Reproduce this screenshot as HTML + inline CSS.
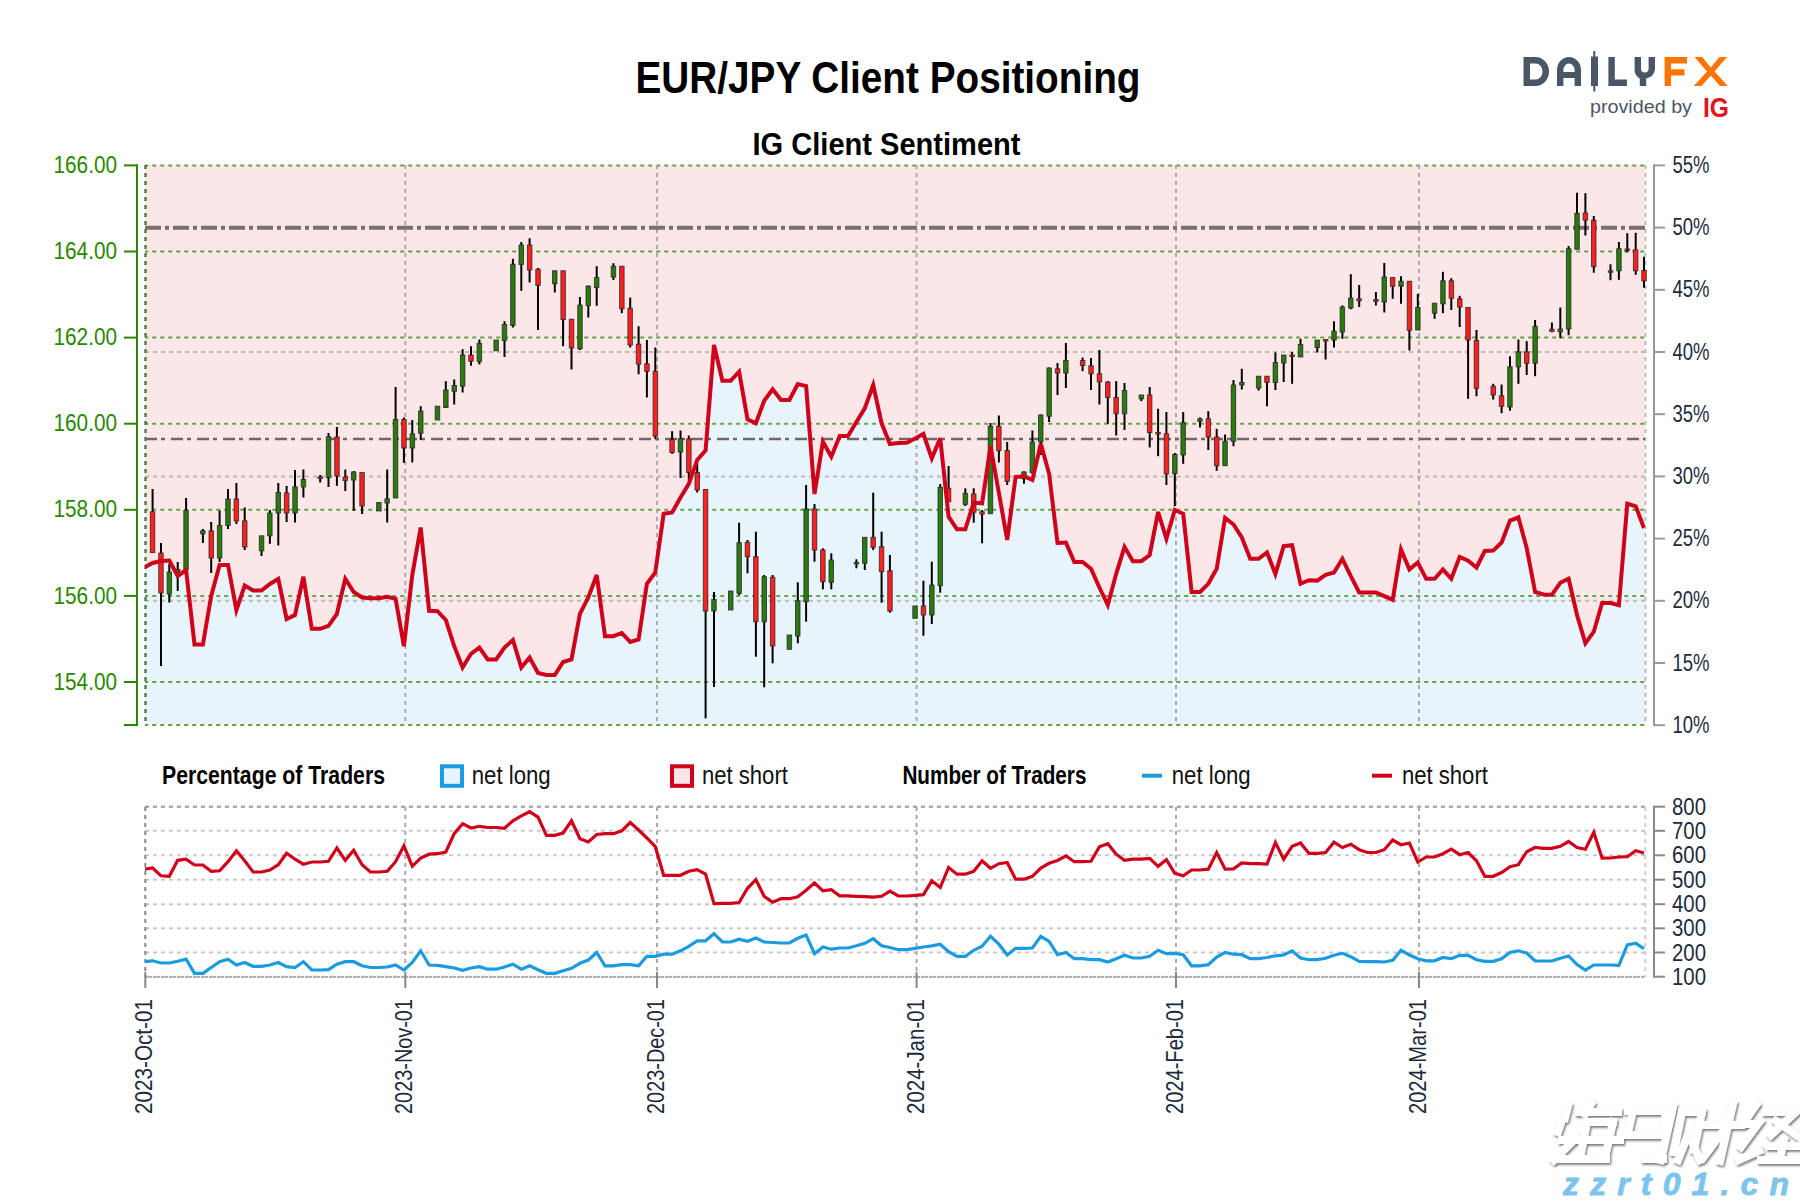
<!DOCTYPE html><html><head><meta charset="utf-8"><style>html,body{margin:0;padding:0;background:#fff;width:1800px;height:1200px;overflow:hidden}svg{display:block}text{font-family:"Liberation Sans",sans-serif}</style></head><body>
<svg width="1800" height="1200" viewBox="0 0 1800 1200">
<rect x="0" y="0" width="1800" height="1200" fill="#fff"/>
<text x="635.5" y="92.8" font-size="44.5" font-weight="bold" fill="#000" textLength="505" lengthAdjust="spacingAndGlyphs">EUR/JPY Client Positioning</text>
<text x="752.5" y="155" font-size="32" font-weight="bold" fill="#000" textLength="268" lengthAdjust="spacingAndGlyphs">IG Client Sentiment</text>
<defs><clipPath id="pc"><rect x="145" y="165" width="1500" height="560"/></clipPath></defs>
<rect x="145" y="165" width="1500" height="560" fill="#fbe7e8"/>
<polygon clip-path="url(#pc)" fill="#e8f4fc" points="144.2,725 144.2,567.5 152.6,563.0 161.0,561.0 169.3,560.5 177.7,576.0 186.1,570.0 194.5,644.5 202.9,644.5 211.2,596.0 219.6,565.0 228.0,565.0 236.4,610.0 244.7,585.5 253.1,590.5 261.5,590.5 269.9,584.0 278.3,579.0 286.6,619.0 295.0,615.0 303.4,576.8 311.8,628.8 320.2,628.8 328.5,625.8 336.9,613.8 345.3,578.8 353.7,592.0 362.1,597.5 370.4,598.2 378.8,598.2 387.2,596.8 395.6,598.8 403.9,646.2 412.3,575.0 420.7,527.5 429.1,610.8 437.5,611.2 445.8,620.0 454.2,646.2 462.6,667.5 471.0,653.8 479.4,647.5 487.7,659.5 496.1,659.5 504.5,647.5 512.9,640.0 521.3,667.5 529.6,657.5 538.0,673.0 546.4,675.0 554.8,675.0 563.1,662.0 571.5,659.5 579.9,613.8 588.3,597.5 596.7,575.0 605.0,636.2 613.4,636.2 621.8,633.0 630.2,642.0 638.6,639.5 646.9,583.8 655.3,572.5 663.7,513.8 672.1,512.5 680.5,497.5 688.8,483.8 697.2,460.0 705.6,450.5 714.0,345.0 722.4,380.7 730.7,380.7 739.1,371.7 747.5,419.3 755.9,423.3 764.2,400.7 772.6,389.3 781.0,400.0 789.4,400.0 797.8,384.0 806.1,386.0 814.5,494.0 822.9,441.7 831.3,456.7 839.7,436.0 848.0,436.0 856.4,422.0 864.8,408.3 873.2,385.0 881.6,423.3 889.9,444.0 898.3,443.0 906.7,442.7 915.1,438.5 923.4,434.0 931.8,458.3 940.2,438.3 948.6,516.7 957.0,529.3 965.3,529.3 973.7,502.7 982.1,503.3 990.5,446.2 998.9,493.0 1007.2,540.0 1015.6,477.0 1024.0,476.2 1032.4,480.0 1040.8,443.8 1049.1,473.8 1057.5,543.0 1065.9,542.5 1074.3,562.0 1082.6,562.0 1091.0,568.8 1099.4,587.5 1107.8,605.0 1116.2,573.8 1124.5,547.0 1132.9,561.2 1141.3,561.2 1149.7,555.0 1158.1,512.0 1166.4,538.8 1174.8,510.0 1183.2,513.8 1191.6,592.0 1200.0,592.0 1208.3,583.8 1216.7,568.8 1225.1,518.0 1233.5,524.5 1241.8,537.5 1250.2,558.8 1258.6,558.8 1267.0,552.5 1275.4,574.0 1283.7,546.2 1292.1,545.2 1300.5,583.8 1308.9,580.2 1317.3,580.6 1325.6,574.8 1334.0,572.5 1342.4,558.8 1350.8,576.2 1359.2,592.5 1367.5,592.5 1375.9,592.5 1384.3,596.2 1392.7,599.8 1401.0,549.4 1409.4,569.4 1417.8,562.5 1426.2,578.8 1434.6,578.8 1442.9,569.4 1451.3,578.8 1459.7,556.9 1468.1,560.6 1476.5,567.5 1484.8,551.0 1493.2,550.6 1501.6,542.5 1510.0,520.6 1518.4,517.5 1526.7,548.1 1535.1,591.9 1543.5,594.4 1551.9,594.7 1560.3,582.8 1568.6,578.7 1577.0,615.0 1585.4,643.3 1593.8,631.7 1602.1,603.0 1610.5,603.0 1618.9,605.3 1627.3,503.7 1635.7,506.3 1644.0,528.0 1644.0,725"/>
<line x1="145" y1="165.4" x2="1645" y2="165.4" stroke="#64a448" stroke-width="2" stroke-dasharray="4,4" stroke-dashoffset="0.8"/>
<line x1="145" y1="251.5" x2="1645" y2="251.5" stroke="#64a448" stroke-width="2" stroke-dasharray="4,4" stroke-dashoffset="0.8"/>
<line x1="145" y1="337.6" x2="1645" y2="337.6" stroke="#64a448" stroke-width="2" stroke-dasharray="4,4" stroke-dashoffset="0.8"/>
<line x1="145" y1="423.7" x2="1645" y2="423.7" stroke="#64a448" stroke-width="2" stroke-dasharray="4,4" stroke-dashoffset="0.8"/>
<line x1="145" y1="509.8" x2="1645" y2="509.8" stroke="#64a448" stroke-width="2" stroke-dasharray="4,4" stroke-dashoffset="0.8"/>
<line x1="145" y1="595.9" x2="1645" y2="595.9" stroke="#64a448" stroke-width="2" stroke-dasharray="4,4" stroke-dashoffset="0.8"/>
<line x1="145" y1="682.0" x2="1645" y2="682.0" stroke="#64a448" stroke-width="2" stroke-dasharray="4,4" stroke-dashoffset="0.8"/>
<line x1="145" y1="725.0" x2="1645" y2="725.0" stroke="#64a448" stroke-width="2" stroke-dasharray="4,4" stroke-dashoffset="0.8"/>
<line x1="145" y1="352.0" x2="1645" y2="352.0" stroke="#b4aaaa" stroke-opacity="0.8" stroke-width="2" stroke-dasharray="4,4"/>
<line x1="145" y1="476.4" x2="1645" y2="476.4" stroke="#b4aaaa" stroke-opacity="0.8" stroke-width="2" stroke-dasharray="4,4"/>
<line x1="145" y1="600.8" x2="1645" y2="600.8" stroke="#b4aaaa" stroke-opacity="0.8" stroke-width="2" stroke-dasharray="4,4"/>
<line x1="405.3" y1="165" x2="405.3" y2="725" stroke="#aaa" stroke-width="2" stroke-dasharray="4,4"/>
<line x1="657.0" y1="165" x2="657.0" y2="725" stroke="#aaa" stroke-width="2" stroke-dasharray="4,4"/>
<line x1="916.6" y1="165" x2="916.6" y2="725" stroke="#aaa" stroke-width="2" stroke-dasharray="4,4"/>
<line x1="1176.0" y1="165" x2="1176.0" y2="725" stroke="#aaa" stroke-width="2" stroke-dasharray="4,4"/>
<line x1="1419.0" y1="165" x2="1419.0" y2="725" stroke="#aaa" stroke-width="2" stroke-dasharray="4,4"/>
<line x1="145.5" y1="165" x2="145.5" y2="725" stroke="#3d6b30" stroke-opacity="0.85" stroke-width="2.5" stroke-dasharray="4,4"/>
<line x1="1645.5" y1="165" x2="1645.5" y2="725" stroke="#bbb" stroke-width="2" stroke-dasharray="4,4"/>
<line x1="145" y1="227.8" x2="1645" y2="227.8" stroke="#777070" stroke-width="4" stroke-dasharray="16,4,4,4"/>
<line x1="145" y1="439" x2="1645" y2="439" stroke="#706868" stroke-width="2.3" stroke-dasharray="12,4,4,6"/>
<line x1="152.6" y1="489.0" x2="152.6" y2="552.5" stroke="#000" stroke-width="2"/>
<rect x="150.3" y="511.8" width="4.5" height="40.8" fill="#ff1f1f" stroke="#222" stroke-opacity="0.75" stroke-width="1"/>
<line x1="161.0" y1="543.0" x2="161.0" y2="666.0" stroke="#000" stroke-width="2"/>
<rect x="158.7" y="553.0" width="4.5" height="40.0" fill="#ff1f1f" stroke="#222" stroke-opacity="0.75" stroke-width="1"/>
<line x1="169.3" y1="564.0" x2="169.3" y2="602.5" stroke="#000" stroke-width="2"/>
<rect x="167.1" y="572.0" width="4.5" height="22.0" fill="#2a7a10" stroke="#222" stroke-opacity="0.75" stroke-width="1"/>
<line x1="177.7" y1="562.0" x2="177.7" y2="591.0" stroke="#000" stroke-width="2"/>
<rect x="175.5" y="569.5" width="4.5" height="2.5" fill="#2a7a10" stroke="#222" stroke-opacity="0.75" stroke-width="1"/>
<line x1="186.1" y1="498.0" x2="186.1" y2="569.5" stroke="#000" stroke-width="2"/>
<rect x="183.8" y="510.5" width="4.5" height="59.0" fill="#2a7a10" stroke="#222" stroke-opacity="0.75" stroke-width="1"/>
<line x1="202.9" y1="529.0" x2="202.9" y2="543.0" stroke="#000" stroke-width="2"/>
<rect x="200.6" y="530.8" width="4.5" height="3.0" fill="#2a7a10" stroke="#222" stroke-opacity="0.75" stroke-width="1"/>
<line x1="211.2" y1="522.0" x2="211.2" y2="573.0" stroke="#000" stroke-width="2"/>
<rect x="209.0" y="530.8" width="4.5" height="27.2" fill="#ff1f1f" stroke="#222" stroke-opacity="0.75" stroke-width="1"/>
<line x1="219.6" y1="510.5" x2="219.6" y2="562.0" stroke="#000" stroke-width="2"/>
<rect x="217.4" y="525.5" width="4.5" height="32.5" fill="#2a7a10" stroke="#222" stroke-opacity="0.75" stroke-width="1"/>
<line x1="228.0" y1="489.0" x2="228.0" y2="529.0" stroke="#000" stroke-width="2"/>
<rect x="225.7" y="499.0" width="4.5" height="26.5" fill="#2a7a10" stroke="#222" stroke-opacity="0.75" stroke-width="1"/>
<line x1="236.4" y1="483.0" x2="236.4" y2="524.0" stroke="#000" stroke-width="2"/>
<rect x="234.1" y="499.0" width="4.5" height="22.0" fill="#ff1f1f" stroke="#222" stroke-opacity="0.75" stroke-width="1"/>
<line x1="244.7" y1="507.5" x2="244.7" y2="550.0" stroke="#000" stroke-width="2"/>
<rect x="242.5" y="520.8" width="4.5" height="26.2" fill="#ff1f1f" stroke="#222" stroke-opacity="0.75" stroke-width="1"/>
<line x1="261.5" y1="535.8" x2="261.5" y2="556.0" stroke="#000" stroke-width="2"/>
<rect x="259.3" y="535.8" width="4.5" height="15.0" fill="#2a7a10" stroke="#222" stroke-opacity="0.75" stroke-width="1"/>
<line x1="269.9" y1="510.0" x2="269.9" y2="543.8" stroke="#000" stroke-width="2"/>
<rect x="267.6" y="513.0" width="4.5" height="22.8" fill="#2a7a10" stroke="#222" stroke-opacity="0.75" stroke-width="1"/>
<line x1="278.3" y1="483.0" x2="278.3" y2="545.5" stroke="#000" stroke-width="2"/>
<rect x="276.0" y="492.5" width="4.5" height="20.5" fill="#2a7a10" stroke="#222" stroke-opacity="0.75" stroke-width="1"/>
<line x1="286.6" y1="486.0" x2="286.6" y2="522.0" stroke="#000" stroke-width="2"/>
<rect x="284.4" y="493.0" width="4.5" height="20.0" fill="#ff1f1f" stroke="#222" stroke-opacity="0.75" stroke-width="1"/>
<line x1="295.0" y1="470.0" x2="295.0" y2="522.5" stroke="#000" stroke-width="2"/>
<rect x="292.8" y="486.8" width="4.5" height="26.2" fill="#2a7a10" stroke="#222" stroke-opacity="0.75" stroke-width="1"/>
<line x1="303.4" y1="469.5" x2="303.4" y2="497.5" stroke="#000" stroke-width="2"/>
<rect x="301.2" y="479.5" width="4.5" height="7.5" fill="#2a7a10" stroke="#222" stroke-opacity="0.75" stroke-width="1"/>
<line x1="320.2" y1="475.0" x2="320.2" y2="482.5" stroke="#000" stroke-width="2"/>
<rect x="317.9" y="477.0" width="4.5" height="1.5" fill="#ff1f1f" stroke="#222" stroke-opacity="0.75" stroke-width="1"/>
<line x1="328.5" y1="433.0" x2="328.5" y2="487.0" stroke="#000" stroke-width="2"/>
<rect x="326.3" y="436.8" width="4.5" height="40.8" fill="#2a7a10" stroke="#222" stroke-opacity="0.75" stroke-width="1"/>
<line x1="336.9" y1="427.0" x2="336.9" y2="485.8" stroke="#000" stroke-width="2"/>
<rect x="334.7" y="437.0" width="4.5" height="39.0" fill="#ff1f1f" stroke="#222" stroke-opacity="0.75" stroke-width="1"/>
<line x1="345.3" y1="469.5" x2="345.3" y2="491.0" stroke="#000" stroke-width="2"/>
<rect x="343.0" y="477.0" width="4.5" height="3.5" fill="#ff1f1f" stroke="#222" stroke-opacity="0.75" stroke-width="1"/>
<line x1="353.7" y1="471.0" x2="353.7" y2="510.8" stroke="#000" stroke-width="2"/>
<rect x="351.4" y="472.0" width="4.5" height="8.0" fill="#2a7a10" stroke="#222" stroke-opacity="0.75" stroke-width="1"/>
<line x1="362.1" y1="472.5" x2="362.1" y2="514.0" stroke="#000" stroke-width="2"/>
<rect x="359.8" y="472.5" width="4.5" height="33.5" fill="#ff1f1f" stroke="#222" stroke-opacity="0.75" stroke-width="1"/>
<line x1="378.8" y1="502.5" x2="378.8" y2="511.0" stroke="#000" stroke-width="2"/>
<rect x="376.6" y="502.5" width="4.5" height="8.5" fill="#2a7a10" stroke="#222" stroke-opacity="0.75" stroke-width="1"/>
<line x1="387.2" y1="469.5" x2="387.2" y2="522.5" stroke="#000" stroke-width="2"/>
<rect x="384.9" y="498.8" width="4.5" height="4.2" fill="#2a7a10" stroke="#222" stroke-opacity="0.75" stroke-width="1"/>
<line x1="395.6" y1="387.0" x2="395.6" y2="498.0" stroke="#000" stroke-width="2"/>
<rect x="393.3" y="419.5" width="4.5" height="78.5" fill="#2a7a10" stroke="#222" stroke-opacity="0.75" stroke-width="1"/>
<line x1="403.9" y1="417.5" x2="403.9" y2="462.8" stroke="#000" stroke-width="2"/>
<rect x="401.7" y="419.5" width="4.5" height="28.5" fill="#ff1f1f" stroke="#222" stroke-opacity="0.75" stroke-width="1"/>
<line x1="412.3" y1="420.0" x2="412.3" y2="462.5" stroke="#000" stroke-width="2"/>
<rect x="410.1" y="433.8" width="4.5" height="14.2" fill="#2a7a10" stroke="#222" stroke-opacity="0.75" stroke-width="1"/>
<line x1="420.7" y1="406.2" x2="420.7" y2="440.0" stroke="#000" stroke-width="2"/>
<rect x="418.5" y="411.2" width="4.5" height="22.0" fill="#2a7a10" stroke="#222" stroke-opacity="0.75" stroke-width="1"/>
<line x1="437.5" y1="406.2" x2="437.5" y2="420.0" stroke="#000" stroke-width="2"/>
<rect x="435.2" y="406.2" width="4.5" height="13.8" fill="#2a7a10" stroke="#222" stroke-opacity="0.75" stroke-width="1"/>
<line x1="445.8" y1="381.2" x2="445.8" y2="408.0" stroke="#000" stroke-width="2"/>
<rect x="443.6" y="390.0" width="4.5" height="17.5" fill="#2a7a10" stroke="#222" stroke-opacity="0.75" stroke-width="1"/>
<line x1="454.2" y1="379.5" x2="454.2" y2="404.5" stroke="#000" stroke-width="2"/>
<rect x="452.0" y="385.5" width="4.5" height="5.8" fill="#2a7a10" stroke="#222" stroke-opacity="0.75" stroke-width="1"/>
<line x1="462.6" y1="349.2" x2="462.6" y2="392.5" stroke="#000" stroke-width="2"/>
<rect x="460.4" y="355.0" width="4.5" height="31.2" fill="#2a7a10" stroke="#222" stroke-opacity="0.75" stroke-width="1"/>
<line x1="471.0" y1="346.2" x2="471.0" y2="365.8" stroke="#000" stroke-width="2"/>
<rect x="468.7" y="355.0" width="4.5" height="6.2" fill="#ff1f1f" stroke="#222" stroke-opacity="0.75" stroke-width="1"/>
<line x1="479.4" y1="339.5" x2="479.4" y2="364.5" stroke="#000" stroke-width="2"/>
<rect x="477.1" y="343.2" width="4.5" height="18.5" fill="#2a7a10" stroke="#222" stroke-opacity="0.75" stroke-width="1"/>
<line x1="496.1" y1="340.0" x2="496.1" y2="350.8" stroke="#000" stroke-width="2"/>
<rect x="493.9" y="340.0" width="4.5" height="10.8" fill="#2a7a10" stroke="#222" stroke-opacity="0.75" stroke-width="1"/>
<line x1="504.5" y1="321.2" x2="504.5" y2="357.0" stroke="#000" stroke-width="2"/>
<rect x="502.2" y="324.5" width="4.5" height="16.0" fill="#2a7a10" stroke="#222" stroke-opacity="0.75" stroke-width="1"/>
<line x1="512.9" y1="258.8" x2="512.9" y2="327.5" stroke="#000" stroke-width="2"/>
<rect x="510.6" y="264.2" width="4.5" height="61.2" fill="#2a7a10" stroke="#222" stroke-opacity="0.75" stroke-width="1"/>
<line x1="521.3" y1="242.0" x2="521.3" y2="290.8" stroke="#000" stroke-width="2"/>
<rect x="519.0" y="245.0" width="4.5" height="19.5" fill="#2a7a10" stroke="#222" stroke-opacity="0.75" stroke-width="1"/>
<line x1="529.6" y1="238.2" x2="529.6" y2="282.5" stroke="#000" stroke-width="2"/>
<rect x="527.4" y="245.0" width="4.5" height="25.0" fill="#ff1f1f" stroke="#222" stroke-opacity="0.75" stroke-width="1"/>
<line x1="538.0" y1="268.0" x2="538.0" y2="330.0" stroke="#000" stroke-width="2"/>
<rect x="535.8" y="269.2" width="4.5" height="16.2" fill="#ff1f1f" stroke="#222" stroke-opacity="0.75" stroke-width="1"/>
<line x1="554.8" y1="270.8" x2="554.8" y2="292.5" stroke="#000" stroke-width="2"/>
<rect x="552.5" y="270.8" width="4.5" height="13.0" fill="#2a7a10" stroke="#222" stroke-opacity="0.75" stroke-width="1"/>
<line x1="563.1" y1="270.8" x2="563.1" y2="346.2" stroke="#000" stroke-width="2"/>
<rect x="560.9" y="270.8" width="4.5" height="48.8" fill="#ff1f1f" stroke="#222" stroke-opacity="0.75" stroke-width="1"/>
<line x1="571.5" y1="319.2" x2="571.5" y2="369.5" stroke="#000" stroke-width="2"/>
<rect x="569.3" y="319.2" width="4.5" height="28.8" fill="#ff1f1f" stroke="#222" stroke-opacity="0.75" stroke-width="1"/>
<line x1="579.9" y1="297.0" x2="579.9" y2="350.0" stroke="#000" stroke-width="2"/>
<rect x="577.7" y="305.0" width="4.5" height="43.8" fill="#2a7a10" stroke="#222" stroke-opacity="0.75" stroke-width="1"/>
<line x1="588.3" y1="285.5" x2="588.3" y2="317.5" stroke="#000" stroke-width="2"/>
<rect x="586.0" y="286.2" width="4.5" height="19.5" fill="#2a7a10" stroke="#222" stroke-opacity="0.75" stroke-width="1"/>
<line x1="596.7" y1="266.2" x2="596.7" y2="305.8" stroke="#000" stroke-width="2"/>
<rect x="594.4" y="277.5" width="4.5" height="10.0" fill="#2a7a10" stroke="#222" stroke-opacity="0.75" stroke-width="1"/>
<line x1="613.4" y1="263.2" x2="613.4" y2="280.0" stroke="#000" stroke-width="2"/>
<rect x="611.2" y="266.2" width="4.5" height="10.8" fill="#2a7a10" stroke="#222" stroke-opacity="0.75" stroke-width="1"/>
<line x1="621.8" y1="266.2" x2="621.8" y2="313.2" stroke="#000" stroke-width="2"/>
<rect x="619.6" y="266.2" width="4.5" height="42.5" fill="#ff1f1f" stroke="#222" stroke-opacity="0.75" stroke-width="1"/>
<line x1="630.2" y1="297.5" x2="630.2" y2="347.5" stroke="#000" stroke-width="2"/>
<rect x="627.9" y="308.2" width="4.5" height="36.8" fill="#ff1f1f" stroke="#222" stroke-opacity="0.75" stroke-width="1"/>
<line x1="638.6" y1="326.2" x2="638.6" y2="374.2" stroke="#000" stroke-width="2"/>
<rect x="636.3" y="344.2" width="4.5" height="20.0" fill="#ff1f1f" stroke="#222" stroke-opacity="0.75" stroke-width="1"/>
<line x1="646.9" y1="340.0" x2="646.9" y2="397.5" stroke="#000" stroke-width="2"/>
<rect x="644.7" y="363.8" width="4.5" height="7.5" fill="#ff1f1f" stroke="#222" stroke-opacity="0.75" stroke-width="1"/>
<line x1="655.3" y1="347.5" x2="655.3" y2="438.8" stroke="#000" stroke-width="2"/>
<rect x="653.1" y="371.2" width="4.5" height="65.0" fill="#ff1f1f" stroke="#222" stroke-opacity="0.75" stroke-width="1"/>
<line x1="672.1" y1="431.2" x2="672.1" y2="453.8" stroke="#000" stroke-width="2"/>
<rect x="669.8" y="439.5" width="4.5" height="13.0" fill="#ff1f1f" stroke="#222" stroke-opacity="0.75" stroke-width="1"/>
<line x1="680.5" y1="430.5" x2="680.5" y2="478.0" stroke="#000" stroke-width="2"/>
<rect x="678.2" y="438.8" width="4.5" height="13.2" fill="#2a7a10" stroke="#222" stroke-opacity="0.75" stroke-width="1"/>
<line x1="688.8" y1="435.5" x2="688.8" y2="481.2" stroke="#000" stroke-width="2"/>
<rect x="686.6" y="438.8" width="4.5" height="33.8" fill="#ff1f1f" stroke="#222" stroke-opacity="0.75" stroke-width="1"/>
<line x1="697.2" y1="463.8" x2="697.2" y2="492.5" stroke="#000" stroke-width="2"/>
<rect x="695.0" y="472.5" width="4.5" height="17.5" fill="#ff1f1f" stroke="#222" stroke-opacity="0.75" stroke-width="1"/>
<line x1="705.6" y1="489.5" x2="705.6" y2="718.3" stroke="#000" stroke-width="2"/>
<rect x="703.3" y="489.5" width="4.5" height="121.5" fill="#ff1f1f" stroke="#222" stroke-opacity="0.75" stroke-width="1"/>
<line x1="714.0" y1="592.0" x2="714.0" y2="687.0" stroke="#000" stroke-width="2"/>
<rect x="711.7" y="599.5" width="4.5" height="11.5" fill="#2a7a10" stroke="#222" stroke-opacity="0.75" stroke-width="1"/>
<line x1="730.7" y1="591.0" x2="730.7" y2="610.0" stroke="#000" stroke-width="2"/>
<rect x="728.5" y="591.0" width="4.5" height="19.0" fill="#2a7a10" stroke="#222" stroke-opacity="0.75" stroke-width="1"/>
<line x1="739.1" y1="522.7" x2="739.1" y2="595.0" stroke="#000" stroke-width="2"/>
<rect x="736.9" y="542.7" width="4.5" height="50.6" fill="#2a7a10" stroke="#222" stroke-opacity="0.75" stroke-width="1"/>
<line x1="747.5" y1="540.0" x2="747.5" y2="573.3" stroke="#000" stroke-width="2"/>
<rect x="745.2" y="542.3" width="4.5" height="14.4" fill="#ff1f1f" stroke="#222" stroke-opacity="0.75" stroke-width="1"/>
<line x1="755.9" y1="531.7" x2="755.9" y2="656.7" stroke="#000" stroke-width="2"/>
<rect x="753.6" y="556.7" width="4.5" height="65.0" fill="#ff1f1f" stroke="#222" stroke-opacity="0.75" stroke-width="1"/>
<line x1="764.2" y1="575.0" x2="764.2" y2="687.3" stroke="#000" stroke-width="2"/>
<rect x="762.0" y="576.7" width="4.5" height="45.0" fill="#2a7a10" stroke="#222" stroke-opacity="0.75" stroke-width="1"/>
<line x1="772.6" y1="575.0" x2="772.6" y2="663.3" stroke="#000" stroke-width="2"/>
<rect x="770.4" y="577.3" width="4.5" height="68.7" fill="#ff1f1f" stroke="#222" stroke-opacity="0.75" stroke-width="1"/>
<line x1="789.4" y1="635.0" x2="789.4" y2="649.3" stroke="#000" stroke-width="2"/>
<rect x="787.1" y="635.0" width="4.5" height="14.3" fill="#2a7a10" stroke="#222" stroke-opacity="0.75" stroke-width="1"/>
<line x1="797.8" y1="582.3" x2="797.8" y2="643.3" stroke="#000" stroke-width="2"/>
<rect x="795.5" y="600.7" width="4.5" height="35.3" fill="#2a7a10" stroke="#222" stroke-opacity="0.75" stroke-width="1"/>
<line x1="806.1" y1="485.0" x2="806.1" y2="621.7" stroke="#000" stroke-width="2"/>
<rect x="803.9" y="509.0" width="4.5" height="92.7" fill="#2a7a10" stroke="#222" stroke-opacity="0.75" stroke-width="1"/>
<line x1="814.5" y1="504.0" x2="814.5" y2="561.7" stroke="#000" stroke-width="2"/>
<rect x="812.3" y="509.0" width="4.5" height="41.0" fill="#ff1f1f" stroke="#222" stroke-opacity="0.75" stroke-width="1"/>
<line x1="822.9" y1="548.3" x2="822.9" y2="589.3" stroke="#000" stroke-width="2"/>
<rect x="820.6" y="550.0" width="4.5" height="31.7" fill="#ff1f1f" stroke="#222" stroke-opacity="0.75" stroke-width="1"/>
<line x1="831.3" y1="553.3" x2="831.3" y2="589.3" stroke="#000" stroke-width="2"/>
<rect x="829.0" y="560.0" width="4.5" height="22.3" fill="#2a7a10" stroke="#222" stroke-opacity="0.75" stroke-width="1"/>
<line x1="856.4" y1="559.3" x2="856.4" y2="568.3" stroke="#000" stroke-width="2"/>
<rect x="854.2" y="562.5" width="4.5" height="1.5" fill="#2a7a10" stroke="#222" stroke-opacity="0.75" stroke-width="1"/>
<line x1="864.8" y1="537.3" x2="864.8" y2="570.0" stroke="#000" stroke-width="2"/>
<rect x="862.5" y="537.3" width="4.5" height="26.0" fill="#2a7a10" stroke="#222" stroke-opacity="0.75" stroke-width="1"/>
<line x1="873.2" y1="492.7" x2="873.2" y2="550.0" stroke="#000" stroke-width="2"/>
<rect x="870.9" y="537.3" width="4.5" height="10.0" fill="#ff1f1f" stroke="#222" stroke-opacity="0.75" stroke-width="1"/>
<line x1="881.6" y1="531.7" x2="881.6" y2="602.7" stroke="#000" stroke-width="2"/>
<rect x="879.3" y="546.7" width="4.5" height="25.0" fill="#ff1f1f" stroke="#222" stroke-opacity="0.75" stroke-width="1"/>
<line x1="889.9" y1="555.0" x2="889.9" y2="612.7" stroke="#000" stroke-width="2"/>
<rect x="887.7" y="570.7" width="4.5" height="40.3" fill="#ff1f1f" stroke="#222" stroke-opacity="0.75" stroke-width="1"/>
<line x1="915.1" y1="606.0" x2="915.1" y2="618.3" stroke="#000" stroke-width="2"/>
<rect x="912.8" y="606.0" width="4.5" height="12.3" fill="#2a7a10" stroke="#222" stroke-opacity="0.75" stroke-width="1"/>
<line x1="923.4" y1="580.7" x2="923.4" y2="635.7" stroke="#000" stroke-width="2"/>
<rect x="921.2" y="606.0" width="4.5" height="9.0" fill="#ff1f1f" stroke="#222" stroke-opacity="0.75" stroke-width="1"/>
<line x1="931.8" y1="561.7" x2="931.8" y2="624.0" stroke="#000" stroke-width="2"/>
<rect x="929.6" y="585.0" width="4.5" height="30.0" fill="#2a7a10" stroke="#222" stroke-opacity="0.75" stroke-width="1"/>
<line x1="940.2" y1="484.0" x2="940.2" y2="592.7" stroke="#000" stroke-width="2"/>
<rect x="938.0" y="487.3" width="4.5" height="98.4" fill="#2a7a10" stroke="#222" stroke-opacity="0.75" stroke-width="1"/>
<line x1="948.6" y1="466.0" x2="948.6" y2="501.7" stroke="#000" stroke-width="2"/>
<rect x="946.3" y="488.3" width="4.5" height="13.4" fill="#ff1f1f" stroke="#222" stroke-opacity="0.75" stroke-width="1"/>
<line x1="965.3" y1="488.3" x2="965.3" y2="506.0" stroke="#000" stroke-width="2"/>
<rect x="963.1" y="493.3" width="4.5" height="11.0" fill="#2a7a10" stroke="#222" stroke-opacity="0.75" stroke-width="1"/>
<line x1="973.7" y1="488.3" x2="973.7" y2="522.7" stroke="#000" stroke-width="2"/>
<rect x="971.5" y="494.0" width="4.5" height="18.3" fill="#ff1f1f" stroke="#222" stroke-opacity="0.75" stroke-width="1"/>
<line x1="982.1" y1="510.0" x2="982.1" y2="543.3" stroke="#000" stroke-width="2"/>
<rect x="979.8" y="511.7" width="4.5" height="2.3" fill="#ff1f1f" stroke="#222" stroke-opacity="0.75" stroke-width="1"/>
<line x1="990.5" y1="423.0" x2="990.5" y2="513.8" stroke="#000" stroke-width="2"/>
<rect x="988.2" y="426.2" width="4.5" height="87.5" fill="#2a7a10" stroke="#222" stroke-opacity="0.75" stroke-width="1"/>
<line x1="998.9" y1="415.5" x2="998.9" y2="462.5" stroke="#000" stroke-width="2"/>
<rect x="996.6" y="426.2" width="4.5" height="24.5" fill="#ff1f1f" stroke="#222" stroke-opacity="0.75" stroke-width="1"/>
<line x1="1007.2" y1="442.0" x2="1007.2" y2="485.0" stroke="#000" stroke-width="2"/>
<rect x="1005.0" y="450.5" width="4.5" height="30.8" fill="#ff1f1f" stroke="#222" stroke-opacity="0.75" stroke-width="1"/>
<line x1="1024.0" y1="471.2" x2="1024.0" y2="483.8" stroke="#000" stroke-width="2"/>
<rect x="1021.7" y="472.0" width="4.5" height="6.8" fill="#2a7a10" stroke="#222" stroke-opacity="0.75" stroke-width="1"/>
<line x1="1032.4" y1="430.5" x2="1032.4" y2="473.8" stroke="#000" stroke-width="2"/>
<rect x="1030.1" y="442.0" width="4.5" height="30.5" fill="#2a7a10" stroke="#222" stroke-opacity="0.75" stroke-width="1"/>
<line x1="1040.8" y1="414.5" x2="1040.8" y2="455.0" stroke="#000" stroke-width="2"/>
<rect x="1038.5" y="415.0" width="4.5" height="27.0" fill="#2a7a10" stroke="#222" stroke-opacity="0.75" stroke-width="1"/>
<line x1="1049.1" y1="367.5" x2="1049.1" y2="422.0" stroke="#000" stroke-width="2"/>
<rect x="1046.9" y="368.0" width="4.5" height="48.2" fill="#2a7a10" stroke="#222" stroke-opacity="0.75" stroke-width="1"/>
<line x1="1057.5" y1="363.0" x2="1057.5" y2="395.0" stroke="#000" stroke-width="2"/>
<rect x="1055.3" y="368.8" width="4.5" height="4.2" fill="#ff1f1f" stroke="#222" stroke-opacity="0.75" stroke-width="1"/>
<line x1="1065.9" y1="343.0" x2="1065.9" y2="388.0" stroke="#000" stroke-width="2"/>
<rect x="1063.6" y="360.5" width="4.5" height="12.5" fill="#2a7a10" stroke="#222" stroke-opacity="0.75" stroke-width="1"/>
<line x1="1082.6" y1="357.5" x2="1082.6" y2="371.2" stroke="#000" stroke-width="2"/>
<rect x="1080.4" y="360.5" width="4.5" height="5.0" fill="#ff1f1f" stroke="#222" stroke-opacity="0.75" stroke-width="1"/>
<line x1="1091.0" y1="358.0" x2="1091.0" y2="390.0" stroke="#000" stroke-width="2"/>
<rect x="1088.8" y="365.8" width="4.5" height="8.0" fill="#ff1f1f" stroke="#222" stroke-opacity="0.75" stroke-width="1"/>
<line x1="1099.4" y1="350.0" x2="1099.4" y2="404.5" stroke="#000" stroke-width="2"/>
<rect x="1097.2" y="373.8" width="4.5" height="8.2" fill="#ff1f1f" stroke="#222" stroke-opacity="0.75" stroke-width="1"/>
<line x1="1107.8" y1="381.2" x2="1107.8" y2="423.8" stroke="#000" stroke-width="2"/>
<rect x="1105.5" y="382.0" width="4.5" height="15.5" fill="#ff1f1f" stroke="#222" stroke-opacity="0.75" stroke-width="1"/>
<line x1="1116.2" y1="381.2" x2="1116.2" y2="435.5" stroke="#000" stroke-width="2"/>
<rect x="1113.9" y="397.5" width="4.5" height="16.2" fill="#ff1f1f" stroke="#222" stroke-opacity="0.75" stroke-width="1"/>
<line x1="1124.5" y1="383.0" x2="1124.5" y2="430.0" stroke="#000" stroke-width="2"/>
<rect x="1122.3" y="390.5" width="4.5" height="23.2" fill="#2a7a10" stroke="#222" stroke-opacity="0.75" stroke-width="1"/>
<line x1="1141.3" y1="395.0" x2="1141.3" y2="401.2" stroke="#000" stroke-width="2"/>
<rect x="1139.1" y="395.0" width="4.5" height="3.8" fill="#2a7a10" stroke="#222" stroke-opacity="0.75" stroke-width="1"/>
<line x1="1149.7" y1="387.0" x2="1149.7" y2="447.5" stroke="#000" stroke-width="2"/>
<rect x="1147.4" y="395.0" width="4.5" height="37.5" fill="#ff1f1f" stroke="#222" stroke-opacity="0.75" stroke-width="1"/>
<line x1="1158.1" y1="408.8" x2="1158.1" y2="456.2" stroke="#000" stroke-width="2"/>
<rect x="1155.8" y="432.5" width="4.5" height="1.5" fill="#ff1f1f" stroke="#222" stroke-opacity="0.75" stroke-width="1"/>
<line x1="1166.4" y1="412.0" x2="1166.4" y2="485.0" stroke="#000" stroke-width="2"/>
<rect x="1164.2" y="433.8" width="4.5" height="40.0" fill="#ff1f1f" stroke="#222" stroke-opacity="0.75" stroke-width="1"/>
<line x1="1174.8" y1="453.0" x2="1174.8" y2="506.2" stroke="#000" stroke-width="2"/>
<rect x="1172.6" y="454.5" width="4.5" height="19.2" fill="#2a7a10" stroke="#222" stroke-opacity="0.75" stroke-width="1"/>
<line x1="1183.2" y1="412.0" x2="1183.2" y2="463.8" stroke="#000" stroke-width="2"/>
<rect x="1180.9" y="422.5" width="4.5" height="32.5" fill="#2a7a10" stroke="#222" stroke-opacity="0.75" stroke-width="1"/>
<line x1="1200.0" y1="417.5" x2="1200.0" y2="427.5" stroke="#000" stroke-width="2"/>
<rect x="1197.7" y="418.8" width="4.5" height="2.5" fill="#2a7a10" stroke="#222" stroke-opacity="0.75" stroke-width="1"/>
<line x1="1208.3" y1="411.2" x2="1208.3" y2="450.0" stroke="#000" stroke-width="2"/>
<rect x="1206.1" y="418.8" width="4.5" height="18.2" fill="#ff1f1f" stroke="#222" stroke-opacity="0.75" stroke-width="1"/>
<line x1="1216.7" y1="428.8" x2="1216.7" y2="470.8" stroke="#000" stroke-width="2"/>
<rect x="1214.5" y="437.0" width="4.5" height="28.8" fill="#ff1f1f" stroke="#222" stroke-opacity="0.75" stroke-width="1"/>
<line x1="1225.1" y1="434.5" x2="1225.1" y2="465.8" stroke="#000" stroke-width="2"/>
<rect x="1222.8" y="441.2" width="4.5" height="24.5" fill="#2a7a10" stroke="#222" stroke-opacity="0.75" stroke-width="1"/>
<line x1="1233.5" y1="380.0" x2="1233.5" y2="446.2" stroke="#000" stroke-width="2"/>
<rect x="1231.2" y="385.0" width="4.5" height="56.2" fill="#2a7a10" stroke="#222" stroke-opacity="0.75" stroke-width="1"/>
<line x1="1241.8" y1="368.8" x2="1241.8" y2="389.5" stroke="#000" stroke-width="2"/>
<rect x="1239.6" y="382.5" width="4.5" height="2.5" fill="#2a7a10" stroke="#222" stroke-opacity="0.75" stroke-width="1"/>
<line x1="1258.6" y1="376.2" x2="1258.6" y2="390.5" stroke="#000" stroke-width="2"/>
<rect x="1256.4" y="376.2" width="4.5" height="11.8" fill="#2a7a10" stroke="#222" stroke-opacity="0.75" stroke-width="1"/>
<line x1="1267.0" y1="376.2" x2="1267.0" y2="406.2" stroke="#000" stroke-width="2"/>
<rect x="1264.7" y="376.2" width="4.5" height="6.2" fill="#ff1f1f" stroke="#222" stroke-opacity="0.75" stroke-width="1"/>
<line x1="1275.4" y1="352.5" x2="1275.4" y2="390.0" stroke="#000" stroke-width="2"/>
<rect x="1273.1" y="362.5" width="4.5" height="20.0" fill="#2a7a10" stroke="#222" stroke-opacity="0.75" stroke-width="1"/>
<line x1="1283.7" y1="355.0" x2="1283.7" y2="382.0" stroke="#000" stroke-width="2"/>
<rect x="1281.5" y="355.0" width="4.5" height="8.0" fill="#2a7a10" stroke="#222" stroke-opacity="0.75" stroke-width="1"/>
<line x1="1292.1" y1="352.0" x2="1292.1" y2="383.8" stroke="#000" stroke-width="2"/>
<rect x="1289.9" y="355.0" width="4.5" height="1.5" fill="#ff1f1f" stroke="#222" stroke-opacity="0.75" stroke-width="1"/>
<line x1="1300.5" y1="338.8" x2="1300.5" y2="357.0" stroke="#000" stroke-width="2"/>
<rect x="1298.3" y="344.5" width="4.5" height="12.5" fill="#2a7a10" stroke="#222" stroke-opacity="0.75" stroke-width="1"/>
<line x1="1317.3" y1="340.0" x2="1317.3" y2="352.5" stroke="#000" stroke-width="2"/>
<rect x="1315.0" y="340.0" width="4.5" height="7.5" fill="#2a7a10" stroke="#222" stroke-opacity="0.75" stroke-width="1"/>
<line x1="1325.6" y1="339.5" x2="1325.6" y2="359.5" stroke="#000" stroke-width="2"/>
<rect x="1323.4" y="339.5" width="4.5" height="1.5" fill="#ff1f1f" stroke="#222" stroke-opacity="0.75" stroke-width="1"/>
<line x1="1334.0" y1="321.2" x2="1334.0" y2="347.5" stroke="#000" stroke-width="2"/>
<rect x="1331.8" y="331.2" width="4.5" height="8.8" fill="#2a7a10" stroke="#222" stroke-opacity="0.75" stroke-width="1"/>
<line x1="1342.4" y1="305.5" x2="1342.4" y2="338.8" stroke="#000" stroke-width="2"/>
<rect x="1340.1" y="307.0" width="4.5" height="25.0" fill="#2a7a10" stroke="#222" stroke-opacity="0.75" stroke-width="1"/>
<line x1="1350.8" y1="274.2" x2="1350.8" y2="309.2" stroke="#000" stroke-width="2"/>
<rect x="1348.5" y="298.0" width="4.5" height="10.0" fill="#2a7a10" stroke="#222" stroke-opacity="0.75" stroke-width="1"/>
<line x1="1359.2" y1="285.0" x2="1359.2" y2="307.0" stroke="#000" stroke-width="2"/>
<rect x="1356.9" y="298.8" width="4.5" height="2.0" fill="#ff1f1f" stroke="#222" stroke-opacity="0.75" stroke-width="1"/>
<line x1="1375.9" y1="292.0" x2="1375.9" y2="305.5" stroke="#000" stroke-width="2"/>
<rect x="1373.7" y="299.5" width="4.5" height="1.8" fill="#ff1f1f" stroke="#222" stroke-opacity="0.75" stroke-width="1"/>
<line x1="1384.3" y1="263.0" x2="1384.3" y2="312.5" stroke="#000" stroke-width="2"/>
<rect x="1382.0" y="277.0" width="4.5" height="25.0" fill="#2a7a10" stroke="#222" stroke-opacity="0.75" stroke-width="1"/>
<line x1="1392.7" y1="277.5" x2="1392.7" y2="298.8" stroke="#000" stroke-width="2"/>
<rect x="1390.4" y="277.5" width="4.5" height="8.8" fill="#ff1f1f" stroke="#222" stroke-opacity="0.75" stroke-width="1"/>
<line x1="1401.0" y1="276.2" x2="1401.0" y2="303.8" stroke="#000" stroke-width="2"/>
<rect x="1398.8" y="281.2" width="4.5" height="5.0" fill="#2a7a10" stroke="#222" stroke-opacity="0.75" stroke-width="1"/>
<line x1="1409.4" y1="281.2" x2="1409.4" y2="350.5" stroke="#000" stroke-width="2"/>
<rect x="1407.2" y="281.2" width="4.5" height="49.2" fill="#ff1f1f" stroke="#222" stroke-opacity="0.75" stroke-width="1"/>
<line x1="1417.8" y1="293.8" x2="1417.8" y2="330.0" stroke="#000" stroke-width="2"/>
<rect x="1415.6" y="307.5" width="4.5" height="22.5" fill="#2a7a10" stroke="#222" stroke-opacity="0.75" stroke-width="1"/>
<line x1="1434.6" y1="303.2" x2="1434.6" y2="318.8" stroke="#000" stroke-width="2"/>
<rect x="1432.3" y="303.2" width="4.5" height="10.0" fill="#2a7a10" stroke="#222" stroke-opacity="0.75" stroke-width="1"/>
<line x1="1442.9" y1="271.8" x2="1442.9" y2="313.2" stroke="#000" stroke-width="2"/>
<rect x="1440.7" y="280.8" width="4.5" height="23.0" fill="#2a7a10" stroke="#222" stroke-opacity="0.75" stroke-width="1"/>
<line x1="1451.3" y1="278.2" x2="1451.3" y2="310.0" stroke="#000" stroke-width="2"/>
<rect x="1449.1" y="280.8" width="4.5" height="17.5" fill="#ff1f1f" stroke="#222" stroke-opacity="0.75" stroke-width="1"/>
<line x1="1459.7" y1="295.8" x2="1459.7" y2="327.0" stroke="#000" stroke-width="2"/>
<rect x="1457.5" y="298.8" width="4.5" height="8.2" fill="#ff1f1f" stroke="#222" stroke-opacity="0.75" stroke-width="1"/>
<line x1="1468.1" y1="307.5" x2="1468.1" y2="398.8" stroke="#000" stroke-width="2"/>
<rect x="1465.8" y="307.5" width="4.5" height="32.5" fill="#ff1f1f" stroke="#222" stroke-opacity="0.75" stroke-width="1"/>
<line x1="1476.5" y1="330.0" x2="1476.5" y2="396.2" stroke="#000" stroke-width="2"/>
<rect x="1474.2" y="340.5" width="4.5" height="47.8" fill="#ff1f1f" stroke="#222" stroke-opacity="0.75" stroke-width="1"/>
<line x1="1493.2" y1="383.8" x2="1493.2" y2="399.5" stroke="#000" stroke-width="2"/>
<rect x="1491.0" y="386.2" width="4.5" height="8.8" fill="#ff1f1f" stroke="#222" stroke-opacity="0.75" stroke-width="1"/>
<line x1="1501.6" y1="384.5" x2="1501.6" y2="413.2" stroke="#000" stroke-width="2"/>
<rect x="1499.3" y="395.8" width="4.5" height="10.5" fill="#ff1f1f" stroke="#222" stroke-opacity="0.75" stroke-width="1"/>
<line x1="1510.0" y1="356.2" x2="1510.0" y2="410.8" stroke="#000" stroke-width="2"/>
<rect x="1507.7" y="366.8" width="4.5" height="40.2" fill="#2a7a10" stroke="#222" stroke-opacity="0.75" stroke-width="1"/>
<line x1="1518.4" y1="339.5" x2="1518.4" y2="383.8" stroke="#000" stroke-width="2"/>
<rect x="1516.1" y="351.8" width="4.5" height="15.0" fill="#2a7a10" stroke="#222" stroke-opacity="0.75" stroke-width="1"/>
<line x1="1526.7" y1="341.2" x2="1526.7" y2="375.0" stroke="#000" stroke-width="2"/>
<rect x="1524.5" y="351.8" width="4.5" height="11.5" fill="#ff1f1f" stroke="#222" stroke-opacity="0.75" stroke-width="1"/>
<line x1="1535.1" y1="320.0" x2="1535.1" y2="376.2" stroke="#000" stroke-width="2"/>
<rect x="1532.9" y="326.2" width="4.5" height="37.0" fill="#2a7a10" stroke="#222" stroke-opacity="0.75" stroke-width="1"/>
<line x1="1551.9" y1="322.5" x2="1551.9" y2="332.2" stroke="#000" stroke-width="2"/>
<rect x="1549.6" y="329.2" width="4.5" height="2.2" fill="#ff1f1f" stroke="#222" stroke-opacity="0.75" stroke-width="1"/>
<line x1="1560.3" y1="307.5" x2="1560.3" y2="338.2" stroke="#000" stroke-width="2"/>
<rect x="1558.0" y="329.0" width="4.5" height="2.8" fill="#2a7a10" stroke="#222" stroke-opacity="0.75" stroke-width="1"/>
<line x1="1568.6" y1="246.0" x2="1568.6" y2="335.2" stroke="#000" stroke-width="2"/>
<rect x="1566.4" y="248.7" width="4.5" height="80.3" fill="#2a7a10" stroke="#222" stroke-opacity="0.75" stroke-width="1"/>
<line x1="1577.0" y1="192.8" x2="1577.0" y2="249.3" stroke="#000" stroke-width="2"/>
<rect x="1574.8" y="213.3" width="4.5" height="36.0" fill="#2a7a10" stroke="#222" stroke-opacity="0.75" stroke-width="1"/>
<line x1="1585.4" y1="193.2" x2="1585.4" y2="235.5" stroke="#000" stroke-width="2"/>
<rect x="1583.1" y="213.0" width="4.5" height="7.2" fill="#ff1f1f" stroke="#222" stroke-opacity="0.75" stroke-width="1"/>
<line x1="1593.8" y1="216.0" x2="1593.8" y2="272.7" stroke="#000" stroke-width="2"/>
<rect x="1591.5" y="220.2" width="4.5" height="46.5" fill="#ff1f1f" stroke="#222" stroke-opacity="0.75" stroke-width="1"/>
<line x1="1610.5" y1="264.3" x2="1610.5" y2="280.2" stroke="#000" stroke-width="2"/>
<rect x="1608.3" y="270.8" width="4.5" height="1.5" fill="#2a7a10" stroke="#222" stroke-opacity="0.75" stroke-width="1"/>
<line x1="1618.9" y1="242.0" x2="1618.9" y2="279.8" stroke="#000" stroke-width="2"/>
<rect x="1616.7" y="248.7" width="4.5" height="22.1" fill="#2a7a10" stroke="#222" stroke-opacity="0.75" stroke-width="1"/>
<line x1="1627.3" y1="233.2" x2="1627.3" y2="252.4" stroke="#000" stroke-width="2"/>
<rect x="1625.0" y="249.0" width="4.5" height="1.5" fill="#ff1f1f" stroke="#222" stroke-opacity="0.75" stroke-width="1"/>
<line x1="1635.7" y1="232.8" x2="1635.7" y2="274.8" stroke="#000" stroke-width="2"/>
<rect x="1633.4" y="249.8" width="4.5" height="21.0" fill="#ff1f1f" stroke="#222" stroke-opacity="0.75" stroke-width="1"/>
<line x1="1644.0" y1="256.8" x2="1644.0" y2="287.7" stroke="#000" stroke-width="2"/>
<rect x="1641.8" y="270.4" width="4.5" height="10.6" fill="#ff1f1f" stroke="#222" stroke-opacity="0.75" stroke-width="1"/>
<polyline clip-path="url(#pc)" fill="none" stroke="#d0021b" stroke-width="4" stroke-linejoin="miter" points="144.2,567.5 152.6,563.0 161.0,561.0 169.3,560.5 177.7,576.0 186.1,570.0 194.5,644.5 202.9,644.5 211.2,596.0 219.6,565.0 228.0,565.0 236.4,610.0 244.7,585.5 253.1,590.5 261.5,590.5 269.9,584.0 278.3,579.0 286.6,619.0 295.0,615.0 303.4,576.8 311.8,628.8 320.2,628.8 328.5,625.8 336.9,613.8 345.3,578.8 353.7,592.0 362.1,597.5 370.4,598.2 378.8,598.2 387.2,596.8 395.6,598.8 403.9,646.2 412.3,575.0 420.7,527.5 429.1,610.8 437.5,611.2 445.8,620.0 454.2,646.2 462.6,667.5 471.0,653.8 479.4,647.5 487.7,659.5 496.1,659.5 504.5,647.5 512.9,640.0 521.3,667.5 529.6,657.5 538.0,673.0 546.4,675.0 554.8,675.0 563.1,662.0 571.5,659.5 579.9,613.8 588.3,597.5 596.7,575.0 605.0,636.2 613.4,636.2 621.8,633.0 630.2,642.0 638.6,639.5 646.9,583.8 655.3,572.5 663.7,513.8 672.1,512.5 680.5,497.5 688.8,483.8 697.2,460.0 705.6,450.5 714.0,345.0 722.4,380.7 730.7,380.7 739.1,371.7 747.5,419.3 755.9,423.3 764.2,400.7 772.6,389.3 781.0,400.0 789.4,400.0 797.8,384.0 806.1,386.0 814.5,494.0 822.9,441.7 831.3,456.7 839.7,436.0 848.0,436.0 856.4,422.0 864.8,408.3 873.2,385.0 881.6,423.3 889.9,444.0 898.3,443.0 906.7,442.7 915.1,438.5 923.4,434.0 931.8,458.3 940.2,438.3 948.6,516.7 957.0,529.3 965.3,529.3 973.7,502.7 982.1,503.3 990.5,446.2 998.9,493.0 1007.2,540.0 1015.6,477.0 1024.0,476.2 1032.4,480.0 1040.8,443.8 1049.1,473.8 1057.5,543.0 1065.9,542.5 1074.3,562.0 1082.6,562.0 1091.0,568.8 1099.4,587.5 1107.8,605.0 1116.2,573.8 1124.5,547.0 1132.9,561.2 1141.3,561.2 1149.7,555.0 1158.1,512.0 1166.4,538.8 1174.8,510.0 1183.2,513.8 1191.6,592.0 1200.0,592.0 1208.3,583.8 1216.7,568.8 1225.1,518.0 1233.5,524.5 1241.8,537.5 1250.2,558.8 1258.6,558.8 1267.0,552.5 1275.4,574.0 1283.7,546.2 1292.1,545.2 1300.5,583.8 1308.9,580.2 1317.3,580.6 1325.6,574.8 1334.0,572.5 1342.4,558.8 1350.8,576.2 1359.2,592.5 1367.5,592.5 1375.9,592.5 1384.3,596.2 1392.7,599.8 1401.0,549.4 1409.4,569.4 1417.8,562.5 1426.2,578.8 1434.6,578.8 1442.9,569.4 1451.3,578.8 1459.7,556.9 1468.1,560.6 1476.5,567.5 1484.8,551.0 1493.2,550.6 1501.6,542.5 1510.0,520.6 1518.4,517.5 1526.7,548.1 1535.1,591.9 1543.5,594.4 1551.9,594.7 1560.3,582.8 1568.6,578.7 1577.0,615.0 1585.4,643.3 1593.8,631.7 1602.1,603.0 1610.5,603.0 1618.9,605.3 1627.3,503.7 1635.7,506.3 1644.0,528.0"/>
<line x1="137" y1="164.4" x2="137" y2="726" stroke="#2a8800" stroke-width="2"/>
<line x1="124" y1="165.4" x2="138" y2="165.4" stroke="#2a8800" stroke-width="2"/>
<text x="53.5" y="173.0" font-size="24" fill="#2a8800" textLength="63.5" lengthAdjust="spacingAndGlyphs">166.00</text>
<line x1="124" y1="251.5" x2="138" y2="251.5" stroke="#2a8800" stroke-width="2"/>
<text x="53.5" y="259.1" font-size="24" fill="#2a8800" textLength="63.5" lengthAdjust="spacingAndGlyphs">164.00</text>
<line x1="124" y1="337.6" x2="138" y2="337.6" stroke="#2a8800" stroke-width="2"/>
<text x="53.5" y="345.2" font-size="24" fill="#2a8800" textLength="63.5" lengthAdjust="spacingAndGlyphs">162.00</text>
<line x1="124" y1="423.7" x2="138" y2="423.7" stroke="#2a8800" stroke-width="2"/>
<text x="53.5" y="431.3" font-size="24" fill="#2a8800" textLength="63.5" lengthAdjust="spacingAndGlyphs">160.00</text>
<line x1="124" y1="509.8" x2="138" y2="509.8" stroke="#2a8800" stroke-width="2"/>
<text x="53.5" y="517.4" font-size="24" fill="#2a8800" textLength="63.5" lengthAdjust="spacingAndGlyphs">158.00</text>
<line x1="124" y1="595.9" x2="138" y2="595.9" stroke="#2a8800" stroke-width="2"/>
<text x="53.5" y="603.5" font-size="24" fill="#2a8800" textLength="63.5" lengthAdjust="spacingAndGlyphs">156.00</text>
<line x1="124" y1="682.0" x2="138" y2="682.0" stroke="#2a8800" stroke-width="2"/>
<text x="53.5" y="689.6" font-size="24" fill="#2a8800" textLength="63.5" lengthAdjust="spacingAndGlyphs">154.00</text>
<line x1="124" y1="725" x2="138" y2="725" stroke="#2a8800" stroke-width="2"/>
<line x1="1654" y1="164.4" x2="1654" y2="726" stroke="#999" stroke-width="2"/>
<line x1="1653" y1="165.4" x2="1665" y2="165.4" stroke="#999" stroke-width="2"/>
<text x="1672.5" y="173.0" font-size="24" fill="#1c2b3c" textLength="37" lengthAdjust="spacingAndGlyphs">55%</text>
<line x1="1653" y1="227.6" x2="1665" y2="227.6" stroke="#999" stroke-width="2"/>
<text x="1672.5" y="235.2" font-size="24" fill="#1c2b3c" textLength="37" lengthAdjust="spacingAndGlyphs">50%</text>
<line x1="1653" y1="289.8" x2="1665" y2="289.8" stroke="#999" stroke-width="2"/>
<text x="1672.5" y="297.4" font-size="24" fill="#1c2b3c" textLength="37" lengthAdjust="spacingAndGlyphs">45%</text>
<line x1="1653" y1="352.0" x2="1665" y2="352.0" stroke="#999" stroke-width="2"/>
<text x="1672.5" y="359.6" font-size="24" fill="#1c2b3c" textLength="37" lengthAdjust="spacingAndGlyphs">40%</text>
<line x1="1653" y1="414.2" x2="1665" y2="414.2" stroke="#999" stroke-width="2"/>
<text x="1672.5" y="421.8" font-size="24" fill="#1c2b3c" textLength="37" lengthAdjust="spacingAndGlyphs">35%</text>
<line x1="1653" y1="476.4" x2="1665" y2="476.4" stroke="#999" stroke-width="2"/>
<text x="1672.5" y="484.0" font-size="24" fill="#1c2b3c" textLength="37" lengthAdjust="spacingAndGlyphs">30%</text>
<line x1="1653" y1="538.6" x2="1665" y2="538.6" stroke="#999" stroke-width="2"/>
<text x="1672.5" y="546.2" font-size="24" fill="#1c2b3c" textLength="37" lengthAdjust="spacingAndGlyphs">25%</text>
<line x1="1653" y1="600.8" x2="1665" y2="600.8" stroke="#999" stroke-width="2"/>
<text x="1672.5" y="608.4" font-size="24" fill="#1c2b3c" textLength="37" lengthAdjust="spacingAndGlyphs">20%</text>
<line x1="1653" y1="663.0" x2="1665" y2="663.0" stroke="#999" stroke-width="2"/>
<text x="1672.5" y="670.6" font-size="24" fill="#1c2b3c" textLength="37" lengthAdjust="spacingAndGlyphs">15%</text>
<line x1="1653" y1="725.2" x2="1665" y2="725.2" stroke="#999" stroke-width="2"/>
<text x="1672.5" y="732.8" font-size="24" fill="#1c2b3c" textLength="37" lengthAdjust="spacingAndGlyphs">10%</text>
<text x="162" y="784" font-size="25" font-weight="bold" fill="#000" textLength="223" lengthAdjust="spacingAndGlyphs">Percentage of Traders</text>
<rect x="442" y="766.3" width="20" height="19.5" fill="#e8f4fc" stroke="#1a9be0" stroke-width="4"/>
<text x="471.7" y="784" font-size="25" fill="#111" textLength="79" lengthAdjust="spacingAndGlyphs">net long</text>
<rect x="672" y="766.3" width="20" height="19.5" fill="#fae6e8" stroke="#d0021b" stroke-width="4"/>
<text x="701.9" y="784" font-size="25" fill="#111" textLength="86" lengthAdjust="spacingAndGlyphs">net short</text>
<text x="902.4" y="784" font-size="25" font-weight="bold" fill="#000" textLength="184" lengthAdjust="spacingAndGlyphs">Number of Traders</text>
<line x1="1142" y1="775.7" x2="1162" y2="775.7" stroke="#1a9be0" stroke-width="4"/>
<text x="1171.7" y="784" font-size="25" fill="#111" textLength="79" lengthAdjust="spacingAndGlyphs">net long</text>
<line x1="1372" y1="775.7" x2="1392" y2="775.7" stroke="#d0021b" stroke-width="4"/>
<text x="1401.9" y="784" font-size="25" fill="#111" textLength="86" lengthAdjust="spacingAndGlyphs">net short</text>
<line x1="145" y1="806.7" x2="1645" y2="806.7" stroke="#999" stroke-width="2" stroke-dasharray="4,4"/>
<line x1="145" y1="830.8" x2="1645" y2="830.8" stroke="#c8c8c8" stroke-width="2" stroke-dasharray="4,4"/>
<line x1="145" y1="855.3" x2="1645" y2="855.3" stroke="#c8c8c8" stroke-width="2" stroke-dasharray="4,4"/>
<line x1="145" y1="879.7" x2="1645" y2="879.7" stroke="#c8c8c8" stroke-width="2" stroke-dasharray="4,4"/>
<line x1="145" y1="904.2" x2="1645" y2="904.2" stroke="#c8c8c8" stroke-width="2" stroke-dasharray="4,4"/>
<line x1="145" y1="928.3" x2="1645" y2="928.3" stroke="#c8c8c8" stroke-width="2" stroke-dasharray="4,4"/>
<line x1="145" y1="952.5" x2="1645" y2="952.5" stroke="#c8c8c8" stroke-width="2" stroke-dasharray="4,4"/>
<line x1="145" y1="976.7" x2="1645" y2="976.7" stroke="#c8c8c8" stroke-width="2" stroke-dasharray="4,4"/>
<line x1="145" y1="976.9" x2="1645" y2="976.9" stroke="#b0b0b0" stroke-width="2" stroke-dasharray="3,1"/>
<line x1="145.3" y1="807" x2="145.3" y2="977" stroke="#888" stroke-width="2" stroke-dasharray="4,4"/>
<line x1="1645.3" y1="807" x2="1645.3" y2="977" stroke="#ccc" stroke-width="2" stroke-dasharray="4,4"/>
<line x1="405.3" y1="807" x2="405.3" y2="977" stroke="#aaa" stroke-width="2" stroke-dasharray="4,4"/>
<line x1="657.0" y1="807" x2="657.0" y2="977" stroke="#aaa" stroke-width="2" stroke-dasharray="4,4"/>
<line x1="916.6" y1="807" x2="916.6" y2="977" stroke="#aaa" stroke-width="2" stroke-dasharray="4,4"/>
<line x1="1176.0" y1="807" x2="1176.0" y2="977" stroke="#aaa" stroke-width="2" stroke-dasharray="4,4"/>
<line x1="1419.0" y1="807" x2="1419.0" y2="977" stroke="#aaa" stroke-width="2" stroke-dasharray="4,4"/>
<defs><clipPath id="lc"><rect x="145" y="800" width="1500" height="180"/></clipPath></defs>
<polyline clip-path="url(#lc)" fill="none" stroke="#d0021b" stroke-width="3.2" points="144.2,869.2 152.6,868.0 161.0,875.8 169.3,876.3 177.7,860.3 186.1,859.2 194.5,865.0 202.9,865.0 211.2,871.3 219.6,870.8 228.0,861.7 236.4,850.8 244.7,860.8 253.1,872.0 261.5,872.0 269.9,870.0 278.3,864.7 286.6,853.3 295.0,859.2 303.4,864.2 311.8,862.0 320.2,862.0 328.5,861.3 336.9,848.0 345.3,860.3 353.7,850.3 362.1,864.7 370.4,872.0 378.8,872.0 387.2,871.3 395.6,861.7 403.9,845.8 412.3,866.3 420.7,858.0 429.1,854.2 437.5,853.7 445.8,852.0 454.2,833.7 462.6,823.7 471.0,828.0 479.4,826.3 487.7,827.5 496.1,827.5 504.5,828.3 512.9,820.8 521.3,815.8 529.6,811.7 538.0,817.2 546.4,835.3 554.8,835.3 563.1,833.0 571.5,820.8 579.9,838.7 588.3,842.0 596.7,834.5 605.0,833.7 613.4,833.7 621.8,830.8 630.2,822.5 638.6,830.0 646.9,838.0 655.3,846.7 663.7,875.3 672.1,875.3 680.5,875.3 688.8,871.3 697.2,869.7 705.6,874.2 714.0,903.7 722.4,903.3 730.7,903.3 739.1,902.5 747.5,888.3 755.9,879.7 764.2,896.3 772.6,902.2 781.0,898.7 789.4,898.7 797.8,896.7 806.1,890.3 814.5,883.0 822.9,890.8 831.3,889.7 839.7,895.8 848.0,895.8 856.4,896.3 864.8,896.7 873.2,897.2 881.6,896.3 889.9,891.2 898.3,896.0 906.7,896.0 915.1,895.3 923.4,894.7 931.8,880.8 940.2,887.5 948.6,867.5 957.0,874.2 965.3,874.2 973.7,871.3 982.1,860.8 990.5,868.3 998.9,863.7 1007.2,862.5 1015.6,879.2 1024.0,879.2 1032.4,876.3 1040.8,868.0 1049.1,863.3 1057.5,860.5 1065.9,855.8 1074.3,861.7 1082.6,861.7 1091.0,861.3 1099.4,846.7 1107.8,843.7 1116.2,854.2 1124.5,860.3 1132.9,859.2 1141.3,859.2 1149.7,858.3 1158.1,866.3 1166.4,859.7 1174.8,873.3 1183.2,875.8 1191.6,870.0 1200.0,870.0 1208.3,869.2 1216.7,852.5 1225.1,869.2 1233.5,868.8 1241.8,863.0 1250.2,863.7 1258.6,863.7 1267.0,864.2 1275.4,842.5 1283.7,859.2 1292.1,846.3 1300.5,843.0 1308.9,853.3 1317.3,853.3 1325.6,852.5 1334.0,842.2 1342.4,847.5 1350.8,844.2 1359.2,849.7 1367.5,852.5 1375.9,852.5 1384.3,849.7 1392.7,840.0 1401.0,844.7 1409.4,843.0 1417.8,862.0 1426.2,857.0 1434.6,857.0 1442.9,853.7 1451.3,849.2 1459.7,854.7 1468.1,852.5 1476.5,860.8 1484.8,876.3 1493.2,876.3 1501.6,872.5 1510.0,866.7 1518.4,864.7 1526.7,851.7 1535.1,847.5 1543.5,848.3 1551.9,848.3 1560.3,846.3 1568.6,841.5 1577.0,847.5 1585.4,849.2 1593.8,832.3 1602.1,858.2 1610.5,858.0 1618.9,857.0 1627.3,856.7 1635.7,850.8 1644.0,853.0"/>
<polyline clip-path="url(#lc)" fill="none" stroke="#1a9be0" stroke-width="3.2" points="144.2,961.7 152.6,960.8 161.0,963.0 169.3,963.0 177.7,961.3 186.1,959.2 194.5,973.3 202.9,973.3 211.2,967.5 219.6,961.7 228.0,959.2 236.4,965.0 244.7,962.5 253.1,966.3 261.5,966.3 269.9,965.0 278.3,962.5 286.6,966.7 295.0,967.5 303.4,961.7 311.8,970.0 320.2,970.0 328.5,969.7 336.9,964.2 345.3,961.7 353.7,961.7 362.1,965.8 370.4,967.5 378.8,967.5 387.2,967.0 395.6,965.0 403.9,970.0 412.3,962.5 420.7,950.8 429.1,965.0 437.5,965.3 445.8,966.7 454.2,968.0 462.6,970.3 471.0,968.0 479.4,966.7 487.7,969.2 496.1,969.2 504.5,967.0 512.9,964.2 521.3,969.2 529.6,965.8 538.0,969.7 546.4,973.3 554.8,973.3 563.1,970.8 571.5,968.3 579.9,963.3 588.3,960.0 596.7,952.5 605.0,965.8 613.4,965.8 621.8,964.7 630.2,964.7 638.6,965.8 646.9,956.3 655.3,956.3 663.7,954.2 672.1,954.2 680.5,950.8 688.8,946.3 697.2,940.8 705.6,940.8 714.0,933.7 722.4,941.8 730.7,942.0 739.1,939.2 747.5,941.3 755.9,938.0 764.2,942.0 772.6,942.5 781.0,943.0 789.4,943.0 797.8,938.3 806.1,935.0 814.5,953.7 822.9,947.0 831.3,949.2 839.7,948.0 848.0,948.0 856.4,945.8 864.8,943.3 873.2,938.7 881.6,945.8 889.9,947.5 898.3,949.7 906.7,949.7 915.1,948.3 923.4,947.0 931.8,945.8 940.2,944.2 948.6,951.7 957.0,956.3 965.3,956.3 973.7,950.3 982.1,946.3 990.5,936.3 998.9,944.2 1007.2,955.0 1015.6,948.3 1024.0,948.3 1032.4,948.0 1040.8,936.3 1049.1,941.3 1057.5,954.7 1065.9,952.5 1074.3,958.7 1082.6,958.7 1091.0,959.7 1099.4,959.7 1107.8,962.0 1116.2,958.7 1124.5,955.3 1132.9,958.0 1141.3,958.0 1149.7,956.3 1158.1,950.3 1166.4,953.7 1174.8,953.3 1183.2,954.7 1191.6,965.8 1200.0,965.8 1208.3,964.7 1216.7,957.0 1225.1,952.5 1233.5,954.2 1241.8,954.7 1250.2,958.7 1258.6,958.7 1267.0,957.5 1275.4,955.8 1283.7,955.0 1292.1,950.8 1300.5,958.0 1308.9,959.7 1317.3,959.7 1325.6,958.3 1334.0,955.3 1342.4,953.3 1350.8,956.7 1359.2,961.3 1367.5,961.7 1375.9,961.7 1384.3,962.0 1392.7,960.3 1401.0,950.3 1409.4,955.0 1417.8,958.7 1426.2,960.8 1434.6,960.8 1442.9,957.5 1451.3,958.7 1459.7,955.3 1468.1,955.3 1476.5,959.7 1484.8,961.3 1493.2,961.3 1501.6,958.7 1510.0,952.5 1518.4,950.8 1526.7,953.0 1535.1,960.8 1543.5,961.0 1551.9,961.0 1560.3,958.2 1568.6,956.0 1577.0,964.6 1585.4,970.2 1593.8,965.0 1602.1,965.0 1610.5,965.0 1618.9,965.3 1627.3,945.0 1635.7,943.3 1644.0,948.7"/>
<line x1="1654" y1="806" x2="1654" y2="977.5" stroke="#888" stroke-width="2"/>
<line x1="1653" y1="806.7" x2="1665" y2="806.7" stroke="#888" stroke-width="2"/>
<text x="1672" y="814.7" font-size="24" fill="#1c2b3c" textLength="34" lengthAdjust="spacingAndGlyphs">800</text>
<line x1="1653" y1="830.8" x2="1665" y2="830.8" stroke="#888" stroke-width="2"/>
<text x="1672" y="838.8" font-size="24" fill="#1c2b3c" textLength="34" lengthAdjust="spacingAndGlyphs">700</text>
<line x1="1653" y1="855.3" x2="1665" y2="855.3" stroke="#888" stroke-width="2"/>
<text x="1672" y="863.3" font-size="24" fill="#1c2b3c" textLength="34" lengthAdjust="spacingAndGlyphs">600</text>
<line x1="1653" y1="879.7" x2="1665" y2="879.7" stroke="#888" stroke-width="2"/>
<text x="1672" y="887.7" font-size="24" fill="#1c2b3c" textLength="34" lengthAdjust="spacingAndGlyphs">500</text>
<line x1="1653" y1="904.2" x2="1665" y2="904.2" stroke="#888" stroke-width="2"/>
<text x="1672" y="912.2" font-size="24" fill="#1c2b3c" textLength="34" lengthAdjust="spacingAndGlyphs">400</text>
<line x1="1653" y1="928.3" x2="1665" y2="928.3" stroke="#888" stroke-width="2"/>
<text x="1672" y="936.3" font-size="24" fill="#1c2b3c" textLength="34" lengthAdjust="spacingAndGlyphs">300</text>
<line x1="1653" y1="952.5" x2="1665" y2="952.5" stroke="#888" stroke-width="2"/>
<text x="1672" y="960.5" font-size="24" fill="#1c2b3c" textLength="34" lengthAdjust="spacingAndGlyphs">200</text>
<line x1="1653" y1="976.7" x2="1665" y2="976.7" stroke="#888" stroke-width="2"/>
<text x="1672" y="984.7" font-size="24" fill="#1c2b3c" textLength="34" lengthAdjust="spacingAndGlyphs">100</text>
<line x1="145.3" y1="972" x2="145.3" y2="988" stroke="#888" stroke-width="2"/>
<text transform="translate(152.3,999) rotate(-90)" x="0" y="0" font-size="24" fill="#1c2b3c" text-anchor="end" textLength="115" lengthAdjust="spacingAndGlyphs">2023-Oct-01</text>
<line x1="405.3" y1="972" x2="405.3" y2="988" stroke="#888" stroke-width="2"/>
<text transform="translate(412.3,999) rotate(-90)" x="0" y="0" font-size="24" fill="#1c2b3c" text-anchor="end" textLength="115" lengthAdjust="spacingAndGlyphs">2023-Nov-01</text>
<line x1="657.0" y1="972" x2="657.0" y2="988" stroke="#888" stroke-width="2"/>
<text transform="translate(664.0,999) rotate(-90)" x="0" y="0" font-size="24" fill="#1c2b3c" text-anchor="end" textLength="115" lengthAdjust="spacingAndGlyphs">2023-Dec-01</text>
<line x1="916.6" y1="972" x2="916.6" y2="988" stroke="#888" stroke-width="2"/>
<text transform="translate(923.6,999) rotate(-90)" x="0" y="0" font-size="24" fill="#1c2b3c" text-anchor="end" textLength="115" lengthAdjust="spacingAndGlyphs">2024-Jan-01</text>
<line x1="1176.0" y1="972" x2="1176.0" y2="988" stroke="#888" stroke-width="2"/>
<text transform="translate(1183.0,999) rotate(-90)" x="0" y="0" font-size="24" fill="#1c2b3c" text-anchor="end" textLength="115" lengthAdjust="spacingAndGlyphs">2024-Feb-01</text>
<line x1="1419.0" y1="972" x2="1419.0" y2="988" stroke="#888" stroke-width="2"/>
<text transform="translate(1426.0,999) rotate(-90)" x="0" y="0" font-size="24" fill="#1c2b3c" text-anchor="end" textLength="115" lengthAdjust="spacingAndGlyphs">2024-Mar-01</text>
<g fill="#4a5566">
<path d="M1523.5,57 h12 a13.5,14.5 0 0 1 0,29 h-12 z M1530,63.5 v16 h5.5 a7,8 0 0 0 0,-16 z" fill-rule="evenodd"/>
<path d="M1557,86 v-16 a12,13 0 0 1 24,0 v16 h-6.4 v-8 h-11.2 v8 z M1563.4,72 h11.2 v-2 a5.6,6.5 0 0 0 -11.2,0 z" fill-rule="evenodd"/>
<rect x="1593.3" y="51" width="2" height="40.5"/><rect x="1591" y="56.5" width="7" height="29.5"/>
<path d="M1608.4,57 h6.4 v22.6 h12.1 v6.4 h-18.5 z"/>
<path d="M1634.6,57 H1641 V68.7 A3.8,3.8 0 0 0 1648.6,68.7 V57 H1655 V68.7 A10.2,10.2 0 0 1 1646.2,78.6 V86 H1639.8 V78.4 A10.2,10.2 0 0 1 1634.6,68.7 Z"/>
</g>
<g fill="#ff7300">
<path d="M1664.6,57 h22.4 v6.4 h-16 v5.8 h13.5 v6.2 h-13.5 v10.6 h-6.4 z"/>
<path d="M1694.6,57 h7.6 l8.6,10.5 l8.6,-10.5 h7.6 l-12.4,14.4 l13.2,14.6 h-7.8 l-9.2,-10.6 l-9.2,10.6 h-7.8 l13.2,-14.6 z"/>
</g>
<text x="1590" y="112.7" font-size="18.5" fill="#4a5566" textLength="102" lengthAdjust="spacingAndGlyphs">provided by</text>
<text x="1703" y="117" font-size="28" font-weight="bold" fill="#e0161e" textLength="26" lengthAdjust="spacingAndGlyphs">IG</text>
<defs><filter id="ds" x="-10%" y="-10%" width="120%" height="130%"><feDropShadow dx="1.2" dy="1.8" stdDeviation="0.9" flood-color="#666" flood-opacity="0.9"/></filter></defs>
<g filter="url(#ds)" fill="none" stroke="#fff" stroke-width="8" stroke-linecap="square" stroke-linejoin="miter">
<path d="M1568,1106 L1565,1118"/>
<path d="M1561,1123 L1558,1132"/>
<path d="M1554,1160 L1576,1138"/>
<path d="M1579,1112 L1618,1112"/>
<path d="M1591,1104 L1585,1114"/>
<path d="M1586,1122 L1613,1122"/>
<path d="M1587,1122 L1580,1158"/>
<path d="M1613,1122 L1605,1158"/>
<path d="M1562,1140 L1620,1140"/>
<path d="M1556,1159 L1606,1159"/>
<path d="M1628,1111 L1668,1111"/>
<path d="M1633,1111 L1629,1128"/>
<path d="M1621,1135 L1663,1135"/>
<path d="M1673,1107 L1661,1160"/>
<path d="M1645,1159 L1663,1159"/>
<path d="M1666,1111 L1663,1135"/>
<path d="M1682,1112 L1674,1152"/>
<path d="M1682,1112 L1702,1112"/>
<path d="M1702,1112 L1694,1150"/>
<path d="M1686,1140 L1678,1160"/>
<path d="M1692,1142 L1700,1160"/>
<path d="M1704,1125 L1741,1125"/>
<path d="M1733,1104 L1720,1161"/>
<path d="M1724,1130 L1703,1158"/>
<path d="M1756,1105 L1743,1124 L1758,1124 L1741,1147"/>
<path d="M1739,1160 L1759,1151"/>
<path d="M1766,1112 L1796,1112 L1771,1135"/>
<path d="M1776,1121 L1799,1137"/>
<path d="M1770,1146 L1796,1146"/>
<path d="M1784,1140 L1780,1159"/>
<path d="M1761,1160 L1797,1160"/>
</g>
<text x="1563" y="1194.8" font-size="32" font-weight="bold" font-style="italic" fill="#7cc4ee" stroke="#7cc4ee" stroke-width="0.8" textLength="226" lengthAdjust="spacing">zzrt01.cn</text>
</svg></body></html>
